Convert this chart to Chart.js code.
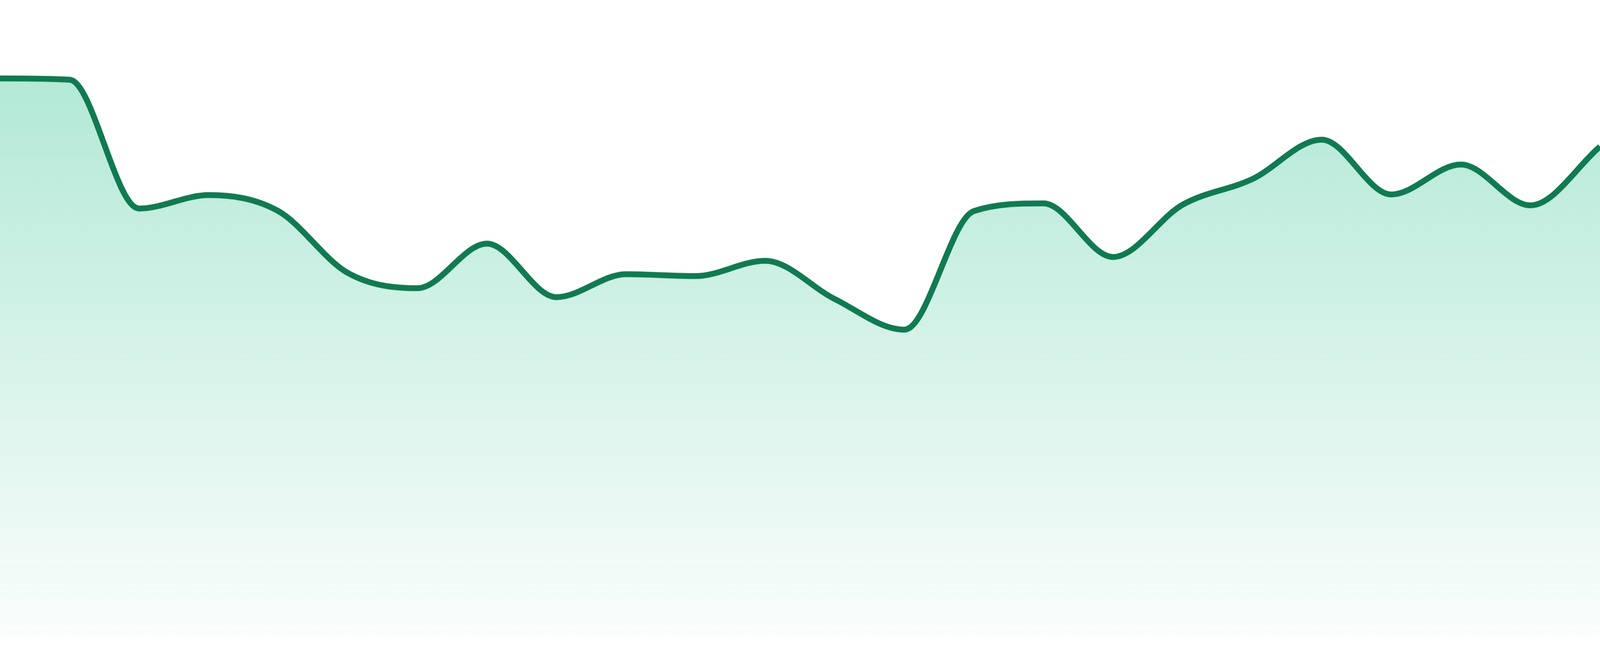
<!DOCTYPE html>
<html>
<head>
<meta charset="utf-8">
<title>Trend</title>
<script src="https://cdn.jsdelivr.net/npm/chart.js@4/dist/chart.umd.min.js"></script>
<style>
    html, body { margin: 0; padding: 0; background: #ffffff; overflow: hidden; }
    .chart-box { position: relative; width: 100vw; height: 97.14vh; }
</style>
</head>
<body>
<div class="chart-box"><canvas id="trendChart"></canvas></div>
<script>
// Chart data
const labels = [
    'P1', 'P2', 'P3', 'P4', 'P5', 'P6', 'P7', 'P8', 'P9', 'P10', 'P11', 'P12',
    'P13', 'P14', 'P15', 'P16', 'P17', 'P18', 'P19', 'P20', 'P21', 'P22', 'P23', 'P24'
];
const values = [
    87.7, 87.5, 67.3, 69.4, 66.9, 57.2, 54.8, 61.8, 53.4, 57.0, 56.7, 59.1,
    53.1, 48.3, 66.9, 68.1, 59.7, 67.9, 71.9, 78.1, 69.5, 74.2, 67.8, 77.0
];
const yMin = 0;
const yMax = 100;

const lineColor = '#117a51';

// Vertical gradient for the area under the line
function areaGradient(context) {
    const chart = context.chart;
    const area = chart.chartArea;
    if (!area) {
        return 'rgba(16, 185, 129, 0.2)';
    }
    const g = chart.ctx.createLinearGradient(0, area.top, 0, area.bottom);
    g.addColorStop(0, 'rgba(16, 185, 129, 0.36)');
    g.addColorStop(1, 'rgba(16, 185, 129, 0.02)');
    return g;
}

const ctx = document.getElementById('trendChart').getContext('2d');

new Chart(ctx, {
    type: 'line',
    data: {
        labels: labels,
        datasets: [{
            data: values,
            borderColor: lineColor,
            borderWidth: 15,
            backgroundColor: areaGradient,
            fill: 'origin',
            cubicInterpolationMode: 'monotone',
            pointRadius: 0,
            pointHoverRadius: 0
        }]
    },
    options: {
        responsive: true,
        maintainAspectRatio: false,
        animation: false,
        layout: { padding: 0, autoPadding: false },
        plugins: {
            legend: { display: false },
            tooltip: { enabled: false }
        },
        scales: {
            x: { display: false },
            y: { display: false, min: yMin, max: yMax }
        }
    }
});
</script>
</body>
</html>
